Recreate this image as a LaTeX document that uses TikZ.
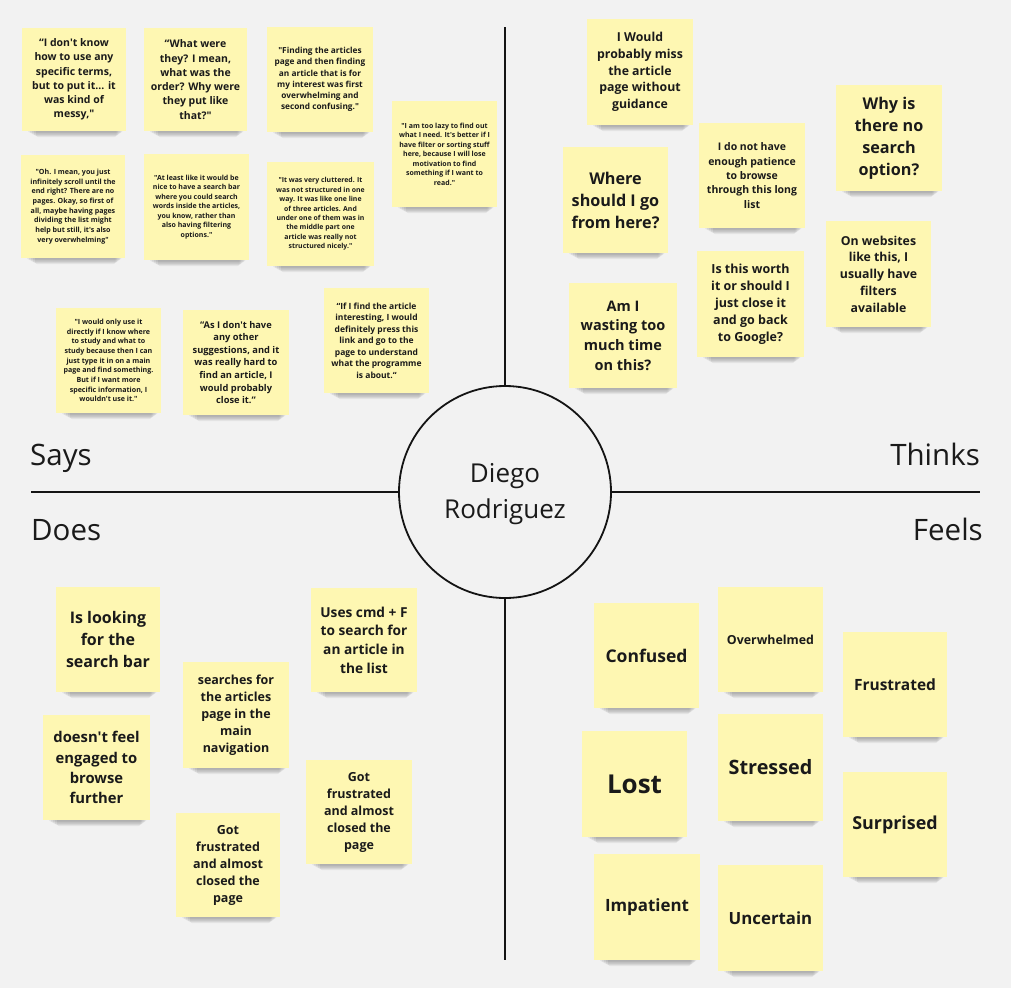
\documentclass[tikz,border=0pt]{standalone}
\usepackage{fontspec}
\setmainfont{Open Sans}[Ligatures=TeXOff]
\definecolor{board}{RGB}{242,242,242}
\definecolor{stickyfill}{RGB}{254,247,178}
\definecolor{ink}{RGB}{26,26,26}
\definecolor{rule}{RGB}{20,20,20}

% A sticky note: name, left, top, right, bottom, font size, text
\newcommand\sticky[7]{%
  \foreach \k in {1,...,5}{%
    \fill[black,opacity=0.06,rounded corners=2pt]
      ({#2+4+2*\k},{#5-4}) rectangle ({#4-2-1.5*\k},{#5+0.5+1.1*\k});
  }
  \pgfmathsetmacro\lsk{1.36*#6}%
  \node[stickybox,
        minimum width={(#4-#2)*1pt}, minimum height={(#5-#3)*1pt},
        font=\fontsize{#6}{\lsk}\selectfont\bfseries]
    (#1) at ({(#2+#4)/2},{(#3+#5)/2}) {#7};
}

\begin{document}
\begin{tikzpicture}[x=1pt,y=-1pt,
  stickybox/.style={rectangle, fill=stickyfill, inner sep=0pt, align=center, text=ink},
  quadlabel/.style={font=\fontsize{29.5}{34}\selectfont, text=ink, inner sep=0pt},
  divider/.style={draw=rule, line width=1.8pt}]

\fill[board] (0,0) rectangle (1011,988);
\useasboundingbox (0,0) rectangle (1011,988);

% persona in the middle and the four quadrant dividers
\node[circle, draw=rule, line width=1.8pt, minimum size=212pt, inner sep=0pt]
  (persona) at (505,492) {};
\node[align=center, text=ink, font=\fontsize{26}{36}\selectfont, inner sep=0pt]
  (personaname) at (505,494) {Diego\\Rodriguez};
\coordinate (topend) at (505,27);
\coordinate (bottomend) at (505,960);
\coordinate (leftend) at (31,492);
\coordinate (rightend) at (980,492);
\draw[divider] (persona.north) -- (topend);
\draw[divider] (persona.south) -- (bottomend);
\draw[divider] (persona.west) -- (leftend);
\draw[divider] (persona.east) -- (rightend);

\node[quadlabel, anchor=base west] (says) at (30,465) {Says};
\node[quadlabel, anchor=base east] (thinks) at (980,465) {Thinks};
\node[quadlabel, anchor=base west] (does) at (31,540) {Does};
\node[quadlabel, anchor=base east] (feels) at (983,540) {Feels};

% Says
\sticky{s1}{22}{28}{126}{131}{10.5}{“I don't know\\how to use any\\specific terms,\\but to put it... it\\was kind of\\messy,"}
\sticky{s2}{144}{28}{247}{131}{10.5}{“What were\\they? I mean,\\what was the\\order? Why were\\they put like\\that?"}
\sticky{s3}{267}{27}{373}{132}{8.3}{"Finding the articles\\page and then finding\\an article that is for\\my interest was first\\overwhelming and\\second confusing."}
\sticky{s4}{392}{101}{497}{207}{7}{"I am too lazy to find out\\what I need. It's better if I\\have filter or sorting stuff\\here, because I will lose\\motivation to find\\something if I want to\\read."}
\sticky{s5}{21}{155}{125}{258}{7.1}{"Oh. I mean, you just\\infinitely scroll until the\\end right? There are no\\pages. Okay, so first of\\all, maybe having pages\\dividing the list might\\help but still, it's also\\very overwhelming"}
\sticky{s6}{144}{154}{249}{260}{7}{"At least like it would be\\nice to have a search bar\\where you could search\\words inside the articles,\\you know, rather than\\also having filtering\\options."}
\sticky{s7}{267}{162}{374}{266}{6.9}{"It was very cluttered. It\\was not structured in one\\way. It was like one line\\of three articles. And\\under one of them was in\\the middle part one\\article was really not\\structured nicely."}
\sticky{s8}{56}{308}{161}{413}{7.1}{"I would only use it\\directly if I know where\\to study and what to\\study because then I can\\just type it in on a main\\page and find something.\\But if I want more\\specific information, I\\wouldn't use it."}
\sticky{s9}{183}{310}{289}{415}{9.3}{“As I don't have\\any other\\suggestions, and it\\was really hard to\\find an article, I\\would probably\\close it.“}
\sticky{s10}{324}{288}{429}{393}{8.5}{“If I find the article\\interesting, I would\\definitely press this\\link and go to the\\page to understand\\what the programme\\is about.“}

% Thinks
\sticky{t1}{587}{19}{693}{125}{12.3}{I Would\\probably miss\\the article\\page without\\guidance}
\sticky{t2}{836}{85}{942}{191}{16.2}{Why is\\there no\\search\\option?}
\sticky{t3}{563}{147}{668}{253}{16.2}{Where\\should I go\\from here?}
\sticky{t4}{699}{123}{805}{228}{10.5}{I do not have\\enough patience\\to browse\\through this long\\list}
\sticky{t5}{826}{221}{931}{327}{12.3}{On websites\\like this, I\\usually have\\filters\\available}
\sticky{t6}{697}{251}{804}{357}{12.5}{Is this worth\\it or should I\\just close it\\and go back\\to Google?}
\sticky{t7}{569}{283}{677}{388}{14.5}{Am I\\wasting too\\much time\\on this?}

% Does
\sticky{d1}{56}{587}{160}{692}{16}{Is looking\\for the\\search bar}
\sticky{d2}{311}{588}{417}{692}{13.7}{Uses cmd + F\\to search for\\an article in\\the list}
\sticky{d3}{183}{662}{289}{768}{12.5}{searches for\\the articles\\page in the\\main\\navigation}
\sticky{d4}{43}{715}{150}{820}{14.8}{doesn't feel\\engaged to\\browse\\further}
\sticky{d5}{306}{760}{412}{864}{12.5}{Got\\frustrated\\and almost\\closed the\\page}
\sticky{d6}{176}{813}{280}{917}{12.5}{Got\\frustrated\\and almost\\closed the\\page}

% Feels
\sticky{f1}{594}{603}{699}{708}{17.5}{Confused}
\sticky{f2}{718}{587}{823}{692}{12.4}{Overwhelmed}
\sticky{f3}{843}{632}{947}{737}{15.5}{Frustrated}
\sticky{f4}{582}{731}{687}{837}{26}{Lost}
\sticky{f5}{718}{714}{823}{821}{19.8}{Stressed}
\sticky{f6}{843}{772}{947}{877}{17.9}{Surprised}
\sticky{f7}{594}{854}{700}{960}{16.9}{Impatient}
\sticky{f8}{718}{865}{823}{971}{16.8}{Uncertain}

\end{tikzpicture}
\end{document}
